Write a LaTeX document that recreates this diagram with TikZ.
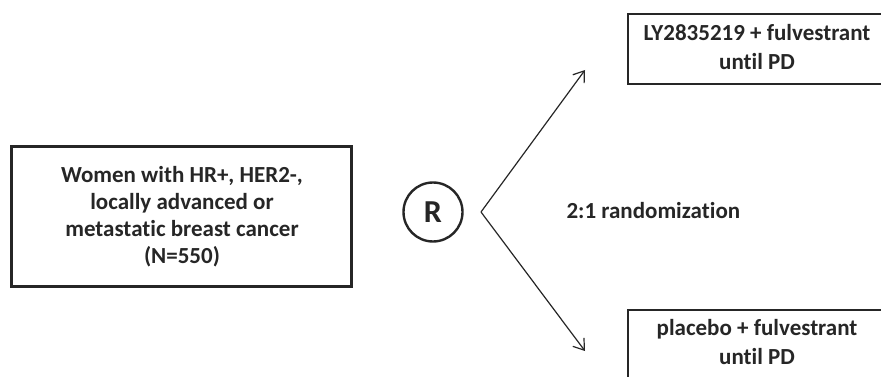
\documentclass[tikz,border=0pt]{standalone}
\usepackage{fontspec}
\setmainfont{Carlito}[Ligatures=NoCommon]
\usetikzlibrary{arrows.meta}
\begin{document}
\begin{tikzpicture}[x=1pt,y=-1pt,
  box/.style={draw=black!85, line width=2pt, fill=white},
  lbl/.style={font=\fontsize{23}{29.5}\selectfont\bfseries, text=black!85, align=center},
  conn/.style={line width=1.2pt, draw=black!85, -{Straight Barb[length=10pt,width=14pt,line width=1.2pt]}}]
\useasboundingbox (0,0) rectangle (881,377);
\begin{scope}
\clip (0,0) rectangle (881,377);
% boxes
\node[box, line width=2.6pt, minimum width=340pt, minimum height=140pt, anchor=north west] (pop) at (10,145) {};
\node[lbl, font=\fontsize{23}{27}\selectfont\bfseries] at (182,217) {Women with HR+, HER2-,\\locally advanced or\\metastatic breast cancer\\(N=550)};
\node[box, minimum width=300pt, minimum height=70pt, anchor=north west] (arm1) at (627,13) {};
\node[lbl] at (757,47) {LY2835219 + fulvestrant\\until PD};
\node[box, minimum width=300pt, minimum height=90pt, anchor=north west] (arm2) at (627,309) {};
\node[lbl] at (757,342) {placebo + fulvestrant\\until PD};
\end{scope}
% R circle
\node[draw=black!85, line width=2.4pt, circle, minimum size=59pt, inner sep=0pt, font=\fontsize{32}{34}\selectfont\bfseries, text=black!85] (R) at (433,212) {R};
\coordinate (v) at (481,212);
\coordinate (t1) at (585,70);
\coordinate (t2) at (585,351);
\draw[conn] (v) -- (t1);
\draw[conn] (v) -- (t2);
\node[lbl, anchor=west] (rand) at (563,211) {2:1 randomization};
\end{tikzpicture}
\end{document}
